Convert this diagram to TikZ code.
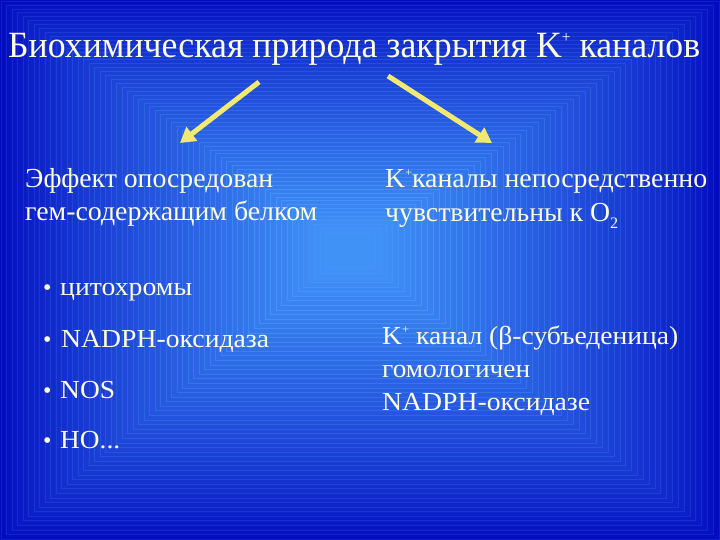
\documentclass[tikz,border=0pt]{standalone}
\usepackage{fontspec}
\setmainfont{Liberation Serif}
\usepackage{graphicx}
\usetikzlibrary{arrows.meta}
\definecolor{edgeblue}{RGB}{4,12,192}
\definecolor{centerblue}{RGB}{66,148,248}
\definecolor{txt}{RGB}{252,252,222}
\definecolor{arrowyellow}{RGB}{242,234,112}
\tikzset{
  lbl/.style={anchor=base west, inner sep=0pt, text=txt},
  yarrow/.style={draw=arrowyellow, line width=5pt, -{Triangle[width=17pt,length=15pt]}},
}
% \fitline{target width}{font size}{text}
\newcommand{\fitline}[3]{\resizebox{#1pt}{\height}{\fontsize{#2}{#2}\selectfont #3}}
\newcommand{\supplus}[1]{\raisebox{0.42em}{\fontsize{#1}{#1}\selectfont +}}
\begin{document}
\begin{tikzpicture}[x=1pt,y=-1pt]
\useasboundingbox (0,0) rectangle (720,540);
% background rectangular gradient
\foreach \k in {0,...,59}{
  \pgfmathsetmacro\f{\k/60}
  \pgfmathsetmacro\p{100*\f^0.8}
  \pgfmathsetmacro\q{min(100,\p+14)}
  \pgfmathsetmacro\xl{\f*330}
  \pgfmathsetmacro\xr{720-\f*350}
  \pgfmathsetmacro\yt{\f*235}
  \pgfmathsetmacro\yb{540-\f*275}
  \fill[centerblue!\p!edgeblue] (\xl,\yt) rectangle (\xr,\yb);
  \draw[centerblue!\q!edgeblue, line width=0.5pt] (\xl+1,\yt+1) rectangle (\xr-1,\yb-1);
}
% title
\node[lbl] (title) at (8,58) {\fitline{692}{37}{Биохимическая природа закрытия K\supplus{16} каналов}};
% arrows
\coordinate (a1s) at (259,82);
\coordinate (a1e) at (180,143);
\coordinate (a2s) at (388,76);
\coordinate (a2e) at (492,143);
\draw[yarrow] (a1s) -- (a1e);
\draw[yarrow] (a2s) -- (a2e);
% left heading
\node[lbl] (l1) at (25,188) {\fitline{248}{27.5}{Эффект опосредован}};
\node[lbl] (l2) at (25,221) {\fitline{292}{27.5}{гем-содержащим белком}};
% right heading
\node[lbl] (r1) at (385,188) {\fitline{322}{27.5}{K\supplus{12}каналы непосредственно}};
\node[lbl] (r2) at (385,221) {\fitline{233}{27.5}{чувствительны к O\raisebox{-0.28em}{\fontsize{16}{16}\selectfont 2}}};
% bullets
\node[lbl] (b1dot) at (43,295) {\fontsize{24}{24}\selectfont •};
\node[lbl] (b1) at (60,295) {\fitline{132}{26}{цитохромы}};
\node[lbl] (b2dot) at (43,347) {\fontsize{24}{24}\selectfont •};
\node[lbl] (b2) at (61,347) {\fitline{208}{26}{NADPH-оксидаза}};
\node[lbl] (b3dot) at (43,398) {\fontsize{24}{24}\selectfont •};
\node[lbl] (b3) at (60,398) {\fitline{55}{26}{NOS}};
\node[lbl] (b4dot) at (43,448) {\fontsize{24}{24}\selectfont •};
\node[lbl] (b4) at (60,448) {\fitline{60}{26}{HO...}};
% bottom right
\node[lbl] (c1) at (382,344) {\fitline{296}{26}{K\supplus{12} канал (β-субъеденица)}};
\node[lbl] (c2) at (382,377) {\fitline{148}{26}{гомологичен}};
\node[lbl] (c3) at (382,410) {\fitline{208}{26}{NADPH-оксидазе}};
\end{tikzpicture}
\end{document}
